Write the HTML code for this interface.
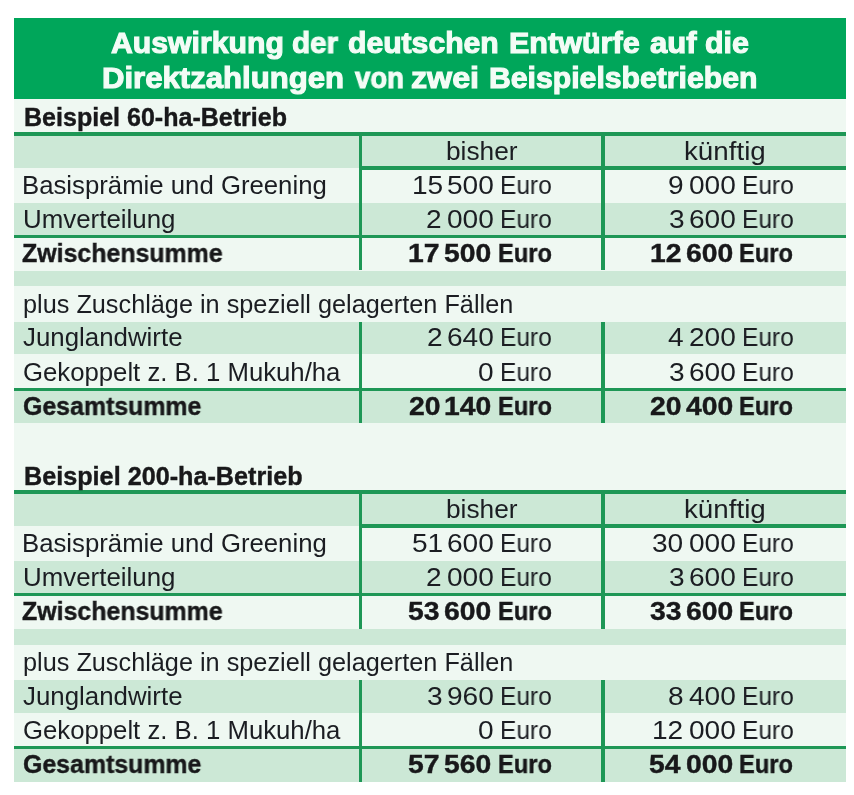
<!DOCTYPE html><html><head><meta charset="utf-8"><title>Direktzahlungen</title><style>
html,body{margin:0;padding:0}
body{width:854px;height:795px;position:relative;overflow:hidden;background:#fff;font-family:"Liberation Sans",sans-serif;color:#1b1d22}
.b,.t{position:absolute}
.t{white-space:pre;line-height:1;transform-origin:0 0;will-change:transform}
.w{color:#f3fcf6;-webkit-text-stroke:1.1px #f3fcf6}
.B{color:#18181a;-webkit-text-stroke:0.4px #18181a}
</style></head><body>
<div class="b" style="left:14px;top:98px;width:832.00px;height:684.00px;background:#eff8f2"></div>
<div class="b" style="left:14px;top:18px;width:832.00px;height:80.50px;background:#00a65a"></div>
<div class="b" style="left:14px;top:98.5px;width:832.00px;height:33.50px;background:#eff8f2"></div>
<div class="b" style="left:14px;top:136px;width:832.00px;height:32.00px;background:#cce8d6"></div>
<div class="b" style="left:14px;top:168px;width:832.00px;height:35.00px;background:#eff8f2"></div>
<div class="b" style="left:14px;top:203px;width:832.00px;height:32.00px;background:#cce8d6"></div>
<div class="b" style="left:14px;top:238px;width:832.00px;height:32.50px;background:#eff8f2"></div>
<div class="b" style="left:14px;top:270.5px;width:832.00px;height:15.50px;background:#cce8d6"></div>
<div class="b" style="left:14px;top:286px;width:832.00px;height:36.00px;background:#eff8f2"></div>
<div class="b" style="left:14px;top:322px;width:832.00px;height:32.00px;background:#cce8d6"></div>
<div class="b" style="left:14px;top:354px;width:832.00px;height:34.00px;background:#eff8f2"></div>
<div class="b" style="left:14px;top:391px;width:832.00px;height:31.50px;background:#cce8d6"></div>
<div class="b" style="left:14px;top:422.5px;width:832.00px;height:67.50px;background:#eff8f2"></div>
<div class="b" style="left:14px;top:494px;width:832.00px;height:32.00px;background:#cce8d6"></div>
<div class="b" style="left:14px;top:526px;width:832.00px;height:34.50px;background:#eff8f2"></div>
<div class="b" style="left:14px;top:560.5px;width:832.00px;height:32.50px;background:#cce8d6"></div>
<div class="b" style="left:14px;top:596px;width:832.00px;height:32.50px;background:#eff8f2"></div>
<div class="b" style="left:14px;top:628.5px;width:832.00px;height:16.00px;background:#cce8d6"></div>
<div class="b" style="left:14px;top:644.5px;width:832.00px;height:35.50px;background:#eff8f2"></div>
<div class="b" style="left:14px;top:680px;width:832.00px;height:32.50px;background:#cce8d6"></div>
<div class="b" style="left:14px;top:712.5px;width:832.00px;height:33.20px;background:#eff8f2"></div>
<div class="b" style="left:14px;top:749px;width:832.00px;height:33.00px;background:#cce8d6"></div>
<div class="b" style="left:14px;top:132px;width:832.00px;height:4.00px;background:#1e9756"></div>
<div class="b" style="left:362px;top:166px;width:484.00px;height:3.50px;background:#1e9756"></div>
<div class="b" style="left:14px;top:235px;width:832.00px;height:3.00px;background:#1e9756"></div>
<div class="b" style="left:14px;top:388px;width:832.00px;height:3.00px;background:#1e9756"></div>
<div class="b" style="left:14px;top:490px;width:832.00px;height:3.80px;background:#1e9756"></div>
<div class="b" style="left:362px;top:524px;width:484.00px;height:3.50px;background:#1e9756"></div>
<div class="b" style="left:14px;top:593px;width:832.00px;height:3.00px;background:#1e9756"></div>
<div class="b" style="left:14px;top:745.7px;width:832.00px;height:3.30px;background:#1e9756"></div>
<div class="b" style="left:359px;top:132px;width:3.20px;height:138.00px;background:#1e9756"></div>
<div class="b" style="left:601px;top:132px;width:3.60px;height:138.00px;background:#1e9756"></div>
<div class="b" style="left:359px;top:322px;width:3.20px;height:100.50px;background:#1e9756"></div>
<div class="b" style="left:601px;top:322px;width:3.60px;height:100.50px;background:#1e9756"></div>
<div class="b" style="left:359px;top:490px;width:3.20px;height:138.50px;background:#1e9756"></div>
<div class="b" style="left:601px;top:490px;width:3.60px;height:138.50px;background:#1e9756"></div>
<div class="b" style="left:359px;top:680px;width:3.20px;height:102.00px;background:#1e9756"></div>
<div class="b" style="left:601px;top:680px;width:3.60px;height:102.00px;background:#1e9756"></div>
<span class="t w" style="left:110.70px;top:27.61px;font-size:30px;font-weight:700;transform:scaleX(1.0067)">Auswirkung</span>
<span class="t w" style="left:292.31px;top:27.61px;font-size:30px;font-weight:700;transform:scaleX(0.9867)">der</span>
<span class="t w" style="left:348.00px;top:27.61px;font-size:30px;font-weight:700;transform:scaleX(1.0047)">deutschen</span>
<span class="t w" style="left:508.66px;top:27.61px;font-size:30px;font-weight:700;transform:scaleX(1.0179)">Entwürfe</span>
<span class="t w" style="left:650.00px;top:27.61px;font-size:30px;font-weight:700;transform:scaleX(1.0346)">auf</span>
<span class="t w" style="left:704.99px;top:27.61px;font-size:30px;font-weight:700;transform:scaleX(1.0130)">die</span>
<span class="t w" style="left:102.23px;top:63.11px;font-size:30px;font-weight:700;transform:scaleX(1.0368)">Direktzahlungen</span>
<span class="t w" style="left:354.80px;top:63.11px;font-size:30px;font-weight:700;transform:scaleX(0.9171)">von</span>
<span class="t w" style="left:411.23px;top:63.11px;font-size:30px;font-weight:700;transform:scaleX(1.0734)">zwei</span>
<span class="t w" style="left:489.19px;top:63.11px;font-size:30px;font-weight:700;transform:scaleX(1.0063)">Beispielsbetrieben</span>
<span class="t B" style="left:23.80px;top:105.44px;font-size:25px;font-weight:700;transform:scaleX(1.0015)">Beispiel 60-ha-Betrieb</span>
<span class="t" style="left:445.95px;top:139.24px;font-size:25px;font-weight:400;transform:scaleX(1.0514)">bisher</span>
<span class="t" style="left:683.79px;top:139.24px;font-size:25px;font-weight:400;transform:scaleX(1.1094)">künftig</span>
<span class="t" style="left:22.44px;top:172.94px;font-size:25px;font-weight:400;transform:scaleX(1.0297)">Basisprämie und Greening</span>
<span class="t" style="left:23.46px;top:206.94px;font-size:25px;font-weight:400;transform:scaleX(1.0353)">Umverteilung</span>
<span class="t B" style="left:22.20px;top:241.24px;font-size:25px;font-weight:700;transform:scaleX(0.9963)">Zwischensumme</span>
<span class="t" style="left:23.49px;top:291.84px;font-size:25px;font-weight:400;transform:scaleX(1.0108)">plus Zuschläge in speziell gelagerten Fällen</span>
<span class="t" style="left:23.40px;top:325.44px;font-size:25px;font-weight:400;transform:scaleX(1.0342)">Junglandwirte</span>
<span class="t" style="left:23.47px;top:359.64px;font-size:25px;font-weight:400;transform:scaleX(1.0289)">Gekoppelt z. B. 1 Mukuh/ha</span>
<span class="t B" style="left:22.80px;top:393.94px;font-size:25px;font-weight:700;transform:scaleX(0.9953)">Gesamtsumme</span>
<span class="t B" style="left:23.79px;top:463.64px;font-size:25px;font-weight:700;transform:scaleX(1.0079)">Beispiel 200-ha-Betrieb</span>
<span class="t" style="left:445.95px;top:497.44px;font-size:25px;font-weight:400;transform:scaleX(1.0514)">bisher</span>
<span class="t" style="left:683.79px;top:497.44px;font-size:25px;font-weight:400;transform:scaleX(1.1094)">künftig</span>
<span class="t" style="left:22.44px;top:531.14px;font-size:25px;font-weight:400;transform:scaleX(1.0297)">Basisprämie und Greening</span>
<span class="t" style="left:23.46px;top:565.14px;font-size:25px;font-weight:400;transform:scaleX(1.0353)">Umverteilung</span>
<span class="t B" style="left:22.20px;top:599.44px;font-size:25px;font-weight:700;transform:scaleX(0.9963)">Zwischensumme</span>
<span class="t" style="left:23.49px;top:650.04px;font-size:25px;font-weight:400;transform:scaleX(1.0108)">plus Zuschläge in speziell gelagerten Fällen</span>
<span class="t" style="left:23.40px;top:683.64px;font-size:25px;font-weight:400;transform:scaleX(1.0342)">Junglandwirte</span>
<span class="t" style="left:23.47px;top:717.84px;font-size:25px;font-weight:400;transform:scaleX(1.0289)">Gekoppelt z. B. 1 Mukuh/ha</span>
<span class="t B" style="left:22.80px;top:752.14px;font-size:25px;font-weight:700;transform:scaleX(0.9953)">Gesamtsumme</span>
<span class="t" style="left:500.33px;top:173.04px;font-size:25px;font-weight:400;transform:scaleX(0.9800)">Euro</span>
<span class="t" style="left:447.07px;top:173.04px;font-size:25px;font-weight:400;transform:scaleX(1.1230)">500</span>
<span class="t" style="left:411.58px;top:173.04px;font-size:25px;font-weight:400;transform:scaleX(1.1230)">15</span>
<span class="t" style="left:742.13px;top:173.04px;font-size:25px;font-weight:400;transform:scaleX(0.9800)">Euro</span>
<span class="t" style="left:688.87px;top:173.04px;font-size:25px;font-weight:400;transform:scaleX(1.1230)">000</span>
<span class="t" style="left:667.87px;top:173.04px;font-size:25px;font-weight:400;transform:scaleX(1.1230)">9</span>
<span class="t" style="left:500.33px;top:206.94px;font-size:25px;font-weight:400;transform:scaleX(0.9800)">Euro</span>
<span class="t" style="left:447.07px;top:206.94px;font-size:25px;font-weight:400;transform:scaleX(1.1230)">000</span>
<span class="t" style="left:426.07px;top:206.94px;font-size:25px;font-weight:400;transform:scaleX(1.1230)">2</span>
<span class="t" style="left:742.13px;top:206.94px;font-size:25px;font-weight:400;transform:scaleX(0.9800)">Euro</span>
<span class="t" style="left:688.87px;top:206.94px;font-size:25px;font-weight:400;transform:scaleX(1.1230)">600</span>
<span class="t" style="left:668.99px;top:206.94px;font-size:25px;font-weight:400;transform:scaleX(1.1230)">3</span>
<span class="t B" style="left:497.59px;top:240.94px;font-size:25px;font-weight:700;transform:scaleX(0.9460)">Euro</span>
<span class="t B" style="left:444.00px;top:240.94px;font-size:25px;font-weight:700;transform:scaleX(1.1330)">500</span>
<span class="t B" style="left:408.31px;top:240.94px;font-size:25px;font-weight:700;transform:scaleX(1.1330)">17</span>
<span class="t B" style="left:739.39px;top:240.94px;font-size:25px;font-weight:700;transform:scaleX(0.9460)">Euro</span>
<span class="t B" style="left:685.80px;top:240.94px;font-size:25px;font-weight:700;transform:scaleX(1.1330)">600</span>
<span class="t B" style="left:650.11px;top:240.94px;font-size:25px;font-weight:700;transform:scaleX(1.1330)">12</span>
<span class="t" style="left:500.33px;top:325.44px;font-size:25px;font-weight:400;transform:scaleX(0.9800)">Euro</span>
<span class="t" style="left:447.07px;top:325.44px;font-size:25px;font-weight:400;transform:scaleX(1.1230)">640</span>
<span class="t" style="left:427.19px;top:325.44px;font-size:25px;font-weight:400;transform:scaleX(1.1230)">2</span>
<span class="t" style="left:742.13px;top:325.44px;font-size:25px;font-weight:400;transform:scaleX(0.9800)">Euro</span>
<span class="t" style="left:688.87px;top:325.44px;font-size:25px;font-weight:400;transform:scaleX(1.1230)">200</span>
<span class="t" style="left:667.87px;top:325.44px;font-size:25px;font-weight:400;transform:scaleX(1.1230)">4</span>
<span class="t" style="left:500.33px;top:359.64px;font-size:25px;font-weight:400;transform:scaleX(0.9800)">Euro</span>
<span class="t" style="left:478.30px;top:359.64px;font-size:25px;font-weight:400;transform:scaleX(1.1230)">0</span>
<span class="t" style="left:742.13px;top:359.64px;font-size:25px;font-weight:400;transform:scaleX(0.9800)">Euro</span>
<span class="t" style="left:688.87px;top:359.64px;font-size:25px;font-weight:400;transform:scaleX(1.1230)">600</span>
<span class="t" style="left:668.99px;top:359.64px;font-size:25px;font-weight:400;transform:scaleX(1.1230)">3</span>
<span class="t B" style="left:497.59px;top:393.94px;font-size:25px;font-weight:700;transform:scaleX(0.9460)">Euro</span>
<span class="t B" style="left:444.00px;top:393.94px;font-size:25px;font-weight:700;transform:scaleX(1.1330)">140</span>
<span class="t B" style="left:409.45px;top:393.94px;font-size:25px;font-weight:700;transform:scaleX(1.1330)">20</span>
<span class="t B" style="left:739.39px;top:393.94px;font-size:25px;font-weight:700;transform:scaleX(0.9460)">Euro</span>
<span class="t B" style="left:685.80px;top:393.94px;font-size:25px;font-weight:700;transform:scaleX(1.1330)">400</span>
<span class="t B" style="left:650.11px;top:393.94px;font-size:25px;font-weight:700;transform:scaleX(1.1330)">20</span>
<span class="t" style="left:500.33px;top:531.24px;font-size:25px;font-weight:400;transform:scaleX(0.9800)">Euro</span>
<span class="t" style="left:447.07px;top:531.24px;font-size:25px;font-weight:400;transform:scaleX(1.1230)">600</span>
<span class="t" style="left:411.58px;top:531.24px;font-size:25px;font-weight:400;transform:scaleX(1.1230)">51</span>
<span class="t" style="left:742.13px;top:531.24px;font-size:25px;font-weight:400;transform:scaleX(0.9800)">Euro</span>
<span class="t" style="left:688.87px;top:531.24px;font-size:25px;font-weight:400;transform:scaleX(1.1230)">000</span>
<span class="t" style="left:652.25px;top:531.24px;font-size:25px;font-weight:400;transform:scaleX(1.1230)">30</span>
<span class="t" style="left:500.33px;top:565.14px;font-size:25px;font-weight:400;transform:scaleX(0.9800)">Euro</span>
<span class="t" style="left:447.07px;top:565.14px;font-size:25px;font-weight:400;transform:scaleX(1.1230)">000</span>
<span class="t" style="left:426.07px;top:565.14px;font-size:25px;font-weight:400;transform:scaleX(1.1230)">2</span>
<span class="t" style="left:742.13px;top:565.14px;font-size:25px;font-weight:400;transform:scaleX(0.9800)">Euro</span>
<span class="t" style="left:688.87px;top:565.14px;font-size:25px;font-weight:400;transform:scaleX(1.1230)">600</span>
<span class="t" style="left:668.99px;top:565.14px;font-size:25px;font-weight:400;transform:scaleX(1.1230)">3</span>
<span class="t B" style="left:497.59px;top:599.14px;font-size:25px;font-weight:700;transform:scaleX(0.9460)">Euro</span>
<span class="t B" style="left:444.00px;top:599.14px;font-size:25px;font-weight:700;transform:scaleX(1.1330)">600</span>
<span class="t B" style="left:408.31px;top:599.14px;font-size:25px;font-weight:700;transform:scaleX(1.1330)">53</span>
<span class="t B" style="left:739.39px;top:599.14px;font-size:25px;font-weight:700;transform:scaleX(0.9460)">Euro</span>
<span class="t B" style="left:685.80px;top:599.14px;font-size:25px;font-weight:700;transform:scaleX(1.1330)">600</span>
<span class="t B" style="left:650.11px;top:599.14px;font-size:25px;font-weight:700;transform:scaleX(1.1330)">33</span>
<span class="t" style="left:500.33px;top:683.64px;font-size:25px;font-weight:400;transform:scaleX(0.9800)">Euro</span>
<span class="t" style="left:447.07px;top:683.64px;font-size:25px;font-weight:400;transform:scaleX(1.1230)">960</span>
<span class="t" style="left:427.19px;top:683.64px;font-size:25px;font-weight:400;transform:scaleX(1.1230)">3</span>
<span class="t" style="left:742.13px;top:683.64px;font-size:25px;font-weight:400;transform:scaleX(0.9800)">Euro</span>
<span class="t" style="left:688.87px;top:683.64px;font-size:25px;font-weight:400;transform:scaleX(1.1230)">400</span>
<span class="t" style="left:667.87px;top:683.64px;font-size:25px;font-weight:400;transform:scaleX(1.1230)">8</span>
<span class="t" style="left:500.33px;top:717.84px;font-size:25px;font-weight:400;transform:scaleX(0.9800)">Euro</span>
<span class="t" style="left:478.30px;top:717.84px;font-size:25px;font-weight:400;transform:scaleX(1.1230)">0</span>
<span class="t" style="left:742.13px;top:717.84px;font-size:25px;font-weight:400;transform:scaleX(0.9800)">Euro</span>
<span class="t" style="left:688.87px;top:717.84px;font-size:25px;font-weight:400;transform:scaleX(1.1230)">000</span>
<span class="t" style="left:652.25px;top:717.84px;font-size:25px;font-weight:400;transform:scaleX(1.1230)">12</span>
<span class="t B" style="left:497.59px;top:752.14px;font-size:25px;font-weight:700;transform:scaleX(0.9460)">Euro</span>
<span class="t B" style="left:444.00px;top:752.14px;font-size:25px;font-weight:700;transform:scaleX(1.1330)">560</span>
<span class="t B" style="left:408.31px;top:752.14px;font-size:25px;font-weight:700;transform:scaleX(1.1330)">57</span>
<span class="t B" style="left:739.39px;top:752.14px;font-size:25px;font-weight:700;transform:scaleX(0.9460)">Euro</span>
<span class="t B" style="left:685.80px;top:752.14px;font-size:25px;font-weight:700;transform:scaleX(1.1330)">000</span>
<span class="t B" style="left:648.98px;top:752.14px;font-size:25px;font-weight:700;transform:scaleX(1.1330)">54</span>
</body></html>
